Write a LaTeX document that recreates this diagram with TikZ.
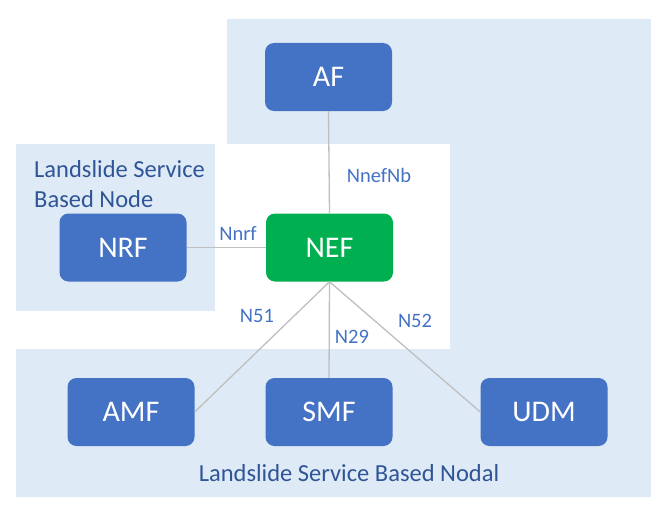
\documentclass[tikz,border=0pt]{standalone}
\usepackage{fontspec}
\setmainfont{Carlito}
\definecolor{boxblue}{HTML}{4472C4}
\definecolor{boxgreen}{HTML}{00B050}
\definecolor{bgblue}{HTML}{DEEAF6}
\definecolor{lblblue}{HTML}{4472C4}
\definecolor{grpblue}{HTML}{2F5597}
\definecolor{linegray}{HTML}{BFBFBF}
\begin{document}
\begin{tikzpicture}[x=1pt,y=-1pt,
  nf/.style={rounded corners=9pt, minimum width=127pt, minimum height=68pt, inner sep=0pt,
    text=white, font=\fontsize{30}{36}\selectfont},
  bluenf/.style={nf, fill=boxblue},
  greennf/.style={nf, fill=boxgreen},
  conn/.style={draw=linegray, line width=1.3pt},
  elabel/.style={text=lblblue, font=\fontsize{20.5}{24}\selectfont, inner sep=0pt},
  grplabel/.style={text=grpblue, font=\fontsize{24.5}{30}\selectfont, inner sep=0pt}
]
\useasboundingbox (0,0) rectangle (668,519);
% background regions
\fill[bgblue] (227,19) rectangle (651,144);
\fill[bgblue] (450,144) rectangle (651,497);
\fill[bgblue] (16,349) rectangle (651,497);
\fill[bgblue] (16,144) rectangle (215,311);

% nodes
\node[bluenf] (af) at (328.5,77) {AF};
\node[greennf] (nef) at (329.5,247.5) {NEF};
\node[bluenf] (nrf) at (123,247.5) {NRF};
\node[bluenf] (amf) at (131,412) {AMF};
\node[bluenf] (smf) at (329,412) {SMF};
\node[bluenf] (udm) at (544,412) {UDM};

% group labels
\node[grplabel, anchor=west, align=left] (grp1) at (34,184) {Landslide Service\\Based Node};
\node[grplabel] (grp2) at (349,473) {Landslide Service Based Nodal};

% connectors
\draw[conn] (af.south) -- (nef.north);
\draw[conn] (nrf.east) -- (nef.west);
\draw[conn] (nef.south) -- (amf.east);
\draw[conn] (nef.south) -- (smf.north);
\draw[conn] (nef.south) -- (udm.west);

% connector labels
\node[elabel] (l1) at (379,175) {NnefNb};
\node[elabel] (l2) at (238,233) {Nnrf};
\node[elabel] (l3) at (257,316) {N51};
\node[elabel] (l4) at (352,337) {N29};
\node[elabel] (l5) at (415,321) {N52};
\end{tikzpicture}
\end{document}
